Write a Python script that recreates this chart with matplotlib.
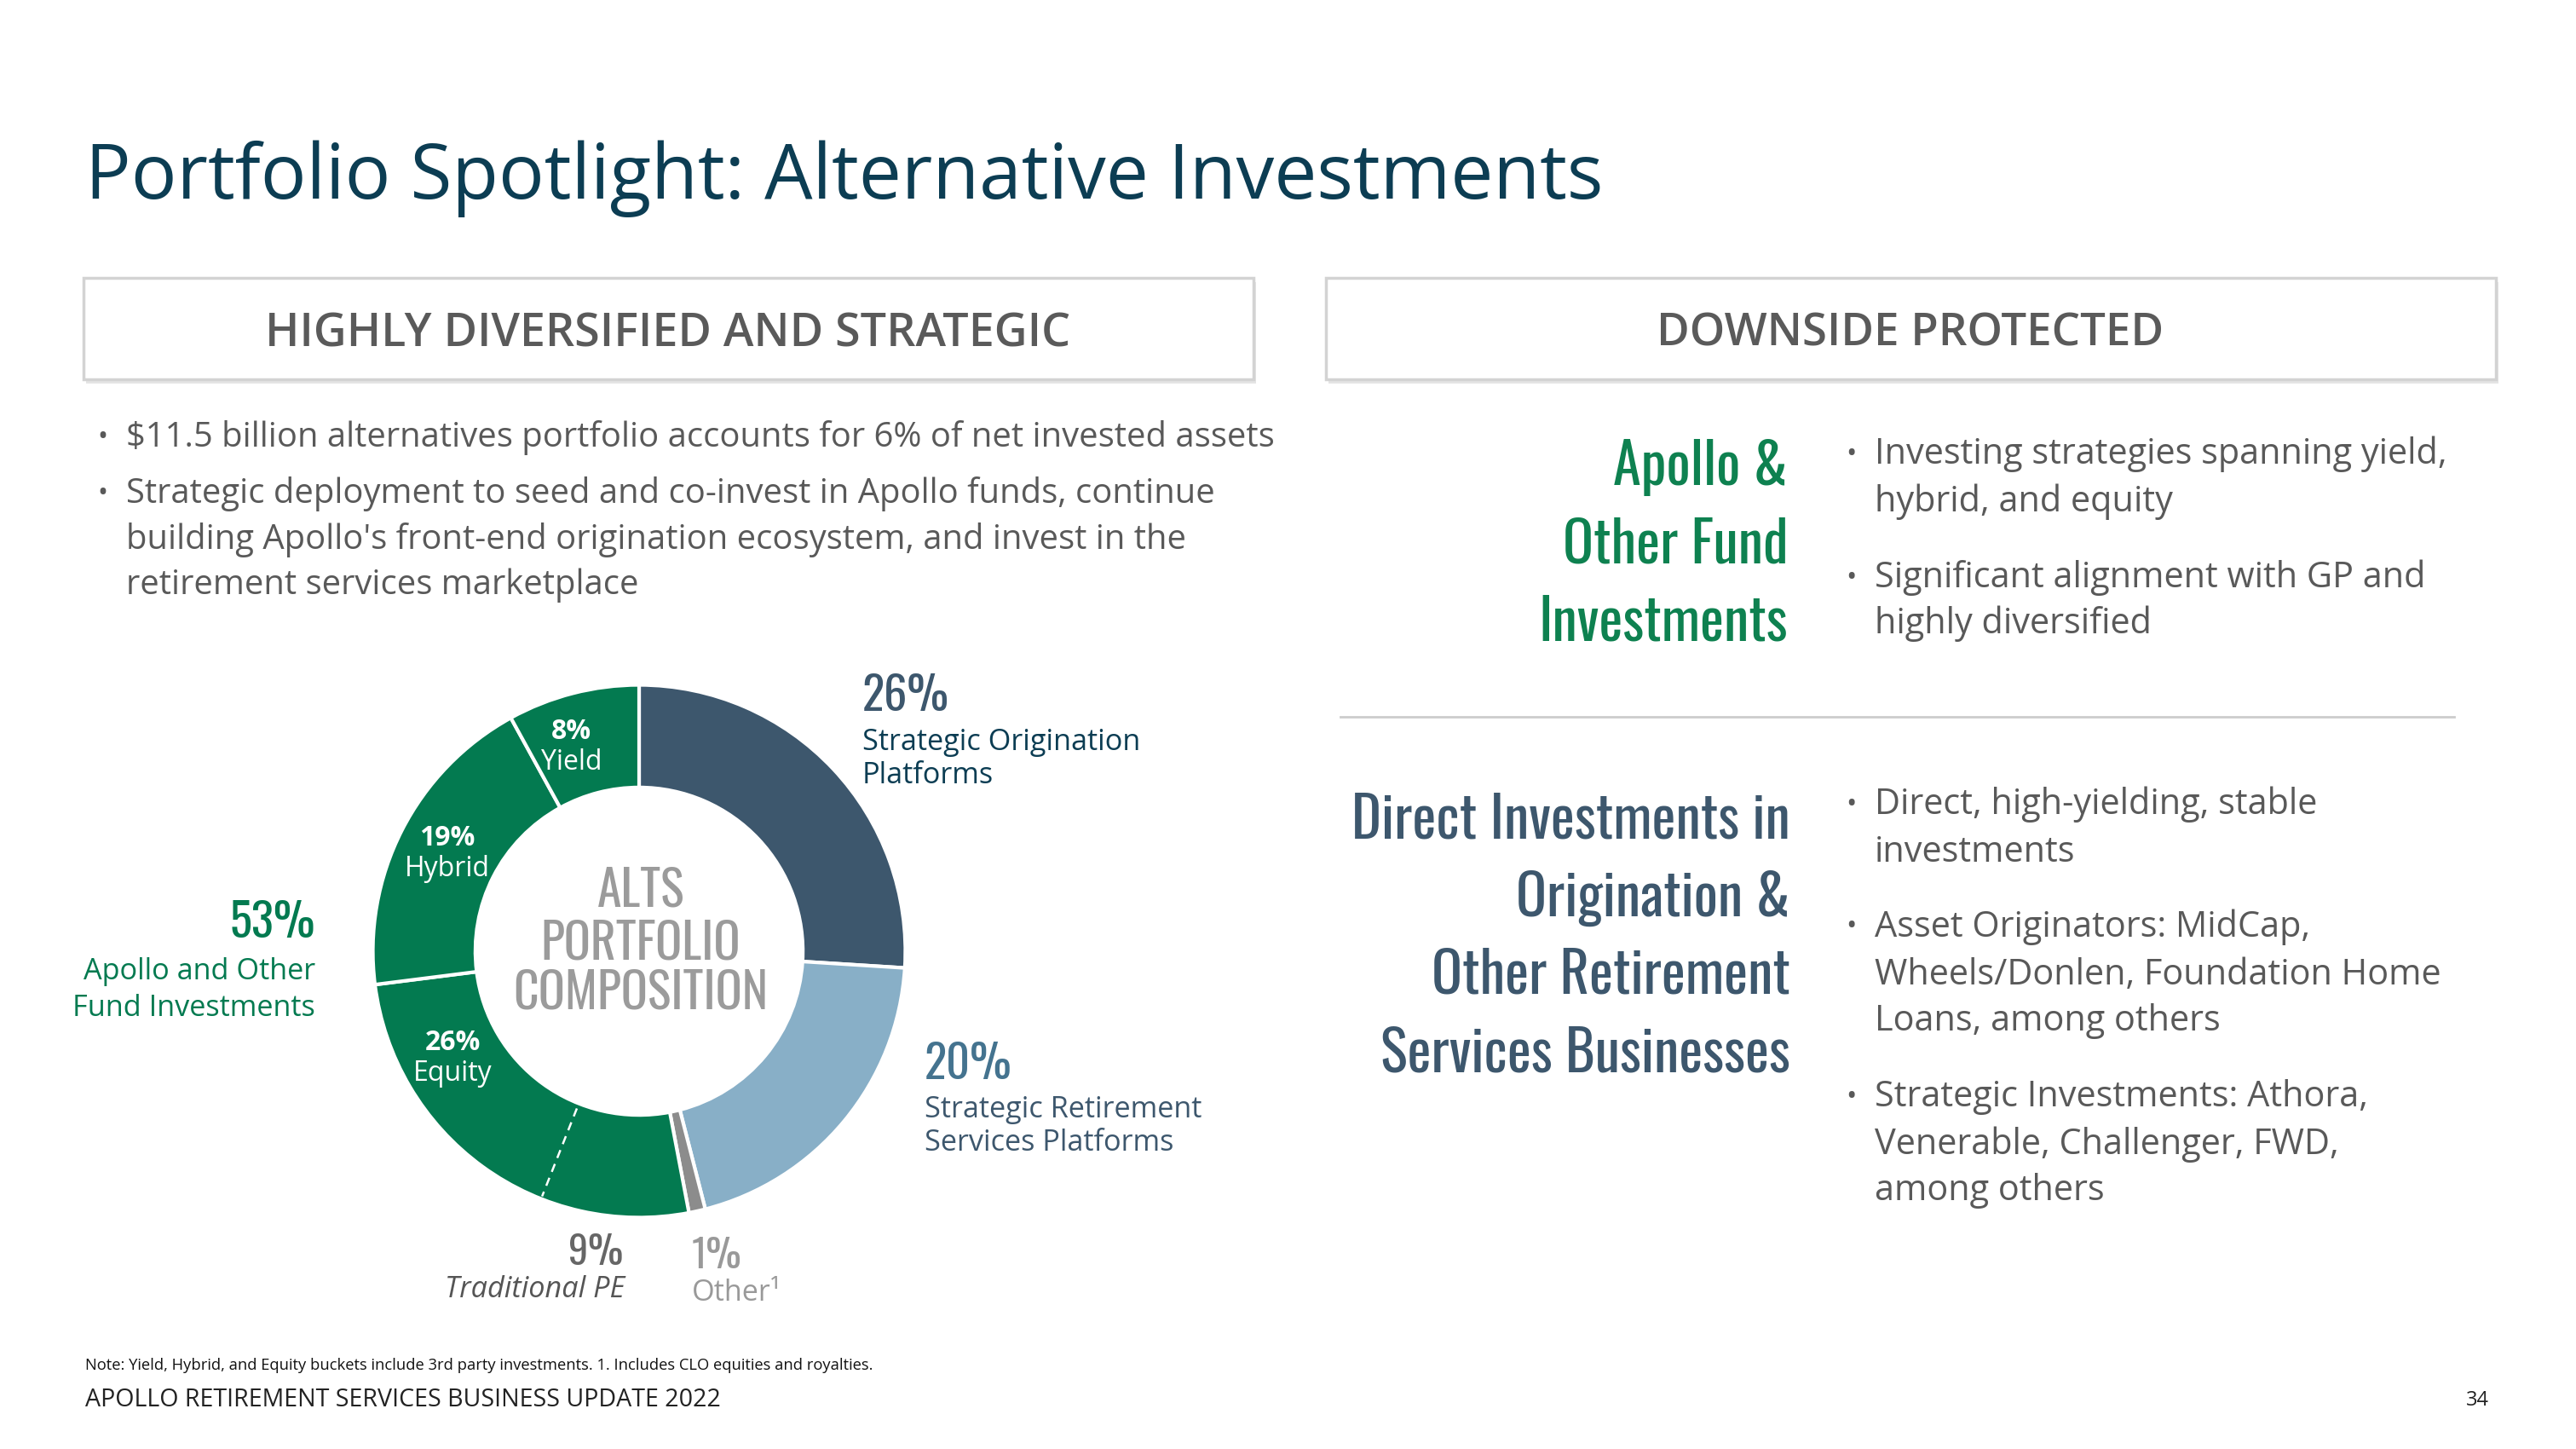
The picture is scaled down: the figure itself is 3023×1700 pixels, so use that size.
import numpy as np
import matplotlib
matplotlib.use("Agg")
import matplotlib.pyplot as plt
from matplotlib.patches import Rectangle

# ---- data ----
segment_names = ["Strategic Origination Platforms", "Strategic Retirement Services Platforms",
                 "Other", "Equity", "Hybrid", "Yield"]
segment_values = [26, 20, 1, 26, 19, 8]
segment_colors = ["#3D576D", "#88AFC7", "#8C8C8C", "#037A50", "#037A50", "#037A50"]
trad_pe_value = 9        # part of Equity, split off by the dashed line
fund_total = 53          # Yield + Hybrid + Equity

left_bullets = [
    ["$11.5 billion alternatives portfolio accounts for 6% of net invested assets"],
    ["Strategic deployment to seed and co-invest in Apollo funds, continue",
     "building Apollo's front-end origination ecosystem, and invest in the",
     "retirement services marketplace"],
]
fund_label = ["Apollo &", "Other Fund", "Investments"]
fund_bullets = [["Investing strategies spanning yield,", "hybrid, and equity"],
                ["Significant alignment with GP and", "highly diversified"]]
direct_label = ["Direct Investments in", "Origination &", "Other Retirement", "Services Businesses"]
direct_bullets = [["Direct, high-yielding, stable", "investments"],
                  ["Asset Originators: MidCap,", "Wheels/Donlen, Foundation Home", "Loans, among others"],
                  ["Strategic Investments: Athora,", "Venerable, Challenger, FWD,", "among others"]]

BODY = "Open Sans"
cond = dict(family="Oswald")
cond_light = dict(family="Oswald", weight="light")

W, H = 3023, 1700
fig = plt.figure(figsize=(W / 100, H / 100), dpi=100)
bg = fig.add_axes([0, 0, 1, 1])
bg.set_xlim(0, W)
bg.set_ylim(H, 0)
bg.axis("off")
renderer = fig.canvas.get_renderer()


def text_w(s, size, **kw):
    t = bg.text(0, 0, s, fontsize=size, **kw)
    w = t.get_window_extent(renderer).width
    t.remove()
    return w


def fit_size(lines, widths, size, **kw):
    # font size so that the lines are about `widths` px wide (averaged)
    if not isinstance(widths, (list, tuple)):
        widths = [widths]
    ratios = [wd / text_w(s, size, **kw) for s, wd in zip(lines, widths)]
    return size * float(np.mean(ratios))


# title
title = "Portfolio Spotlight: Alternative Investments"
bg.text(100, 210, title, fontsize=fit_size([title], 1780, 60, family=BODY),
        family=BODY, color="#0C3D53", va="center")

# header boxes
for x0, label, w in [(98, "HIGHLY DIVERSIFIED AND STRATEGIC", 945), (1556, "DOWNSIDE PROTECTED", 595)]:
    bg.add_patch(Rectangle((x0 + 3, 331), 1373, 119, facecolor="#e4e4e4", edgecolor="none"))
    bg.add_patch(Rectangle((x0, 326), 1373, 119, facecolor="white", edgecolor="#d3d3d3", lw=2.5))
    bg.text(x0 + 686, 392, label, fontsize=fit_size([label], w, 30, family=BODY, weight="semibold"),
            family=BODY, weight="semibold", color="#5a5a5a", ha="center", va="center")

# left bullets
body_size = fit_size([left_bullets[0][0], left_bullets[1][0]], [1311, 1313], 25, family=BODY)
ys = [514, 579, 633, 687]
k = 0
for item in left_bullets:
    for j, line in enumerate(item):
        if j == 0:
            bg.text(114, ys[k], "\u2022", fontsize=body_size * 0.8, family=BODY, color="#595959", va="center")
        bg.text(148, ys[k], line, fontsize=body_size, family=BODY, color="#595959", va="center")
        k += 1

# ---- donut ----
cx, cy, R = 750, 1116, 314
ax = fig.add_axes([(cx - R) / W, 1 - (cy + R) / H, 2 * R / W, 2 * R / H])
ring = 0.385
ax.pie(segment_values, colors=segment_colors, startangle=90, counterclock=False, radius=1,
       wedgeprops=dict(width=ring, edgecolor="white", linewidth=3))
ax.set_xlim(-1.005, 1.005)
ax.set_ylim(-1.005, 1.005)
ax.set_aspect("equal")
ax.axis("off")

total = sum(segment_values)
cum = np.concatenate([[0], np.cumsum(segment_values)]) / total * 360
ang = lambda c: np.deg2rad(90 - c)
# dashed line separating Traditional PE inside Equity
a = ang(cum[3] + trad_pe_value / total * 360)
rr = np.array([1 - ring + 0.02, 0.99])
ax.plot(rr * np.cos(a), rr * np.sin(a), color="white", lw=1.8, ls=(0, (4, 3)))

rmid = 1 - ring / 2
inner = [("8%", "Yield", (cum[5] + cum[6]) / 2 - 4),
         ("19%", "Hybrid", (cum[4] + cum[5]) / 2),
         ("26%", "Equity", (cum[3] + trad_pe_value / total * 360 + cum[4]) / 2 + 8)]
for pct, name, c in inner:
    x, y = rmid * np.cos(ang(c)), rmid * np.sin(ang(c))
    ax.text(x, y + 0.005, pct, fontsize=23, family=BODY, weight="bold", color="white", ha="center", va="bottom")
    ax.text(x, y - 0.005, name, fontsize=23, family=BODY, color="white", ha="center", va="top")

# centre text
csize = fit_size(["COMPOSITION"], 299, 40, **cond)
for s, y in zip(["ALTS", "PORTFOLIO", "COMPOSITION"], [1046, 1107, 1165]):
    bg.text(752, y, s, fontsize=csize, color="#9B9B9B", ha="center", va="center", **cond)

# outside labels
psize = fit_size(["26%"], 102, 40, **cond)
lsize = fit_size(["Strategic Origination"], 328, 22, family=BODY)
bg.text(1012, 817, f"{segment_values[0]}%", fontsize=psize, color="#3D576D", va="center", **cond)
bg.text(1012, 871, "Strategic Origination", fontsize=lsize, family=BODY, color="#0C3D53", va="center")
bg.text(1012, 910, "Platforms", fontsize=lsize, family=BODY, color="#0C3D53", va="center")

bg.text(1085, 1249, f"{segment_values[1]}%", fontsize=psize, color="#44738F", va="center", **cond)
bg.text(1085, 1302, "Strategic Retirement", fontsize=lsize, family=BODY, color="#3D576D", va="center")
bg.text(1085, 1341, "Services Platforms", fontsize=lsize, family=BODY, color="#3D576D", va="center")

bg.text(370, 1083, f"{fund_total}%", fontsize=psize, color="#037A50", ha="right", va="center", **cond)
bg.text(370, 1140, "Apollo and Other", fontsize=lsize, family=BODY, color="#037A50", ha="right", va="center")
bg.text(370, 1183, "Fund Investments", fontsize=lsize, family=BODY, color="#037A50", ha="right", va="center")

bg.text(731, 1469, f"{trad_pe_value}%", fontsize=psize * 0.85, color="#666666", ha="right", va="center", **cond)
bg.text(733, 1513, "Traditional PE", fontsize=lsize, family=BODY, style="italic", color="#555555",
        ha="right", va="center")
bg.text(812, 1473, f"{segment_values[2]}%", fontsize=psize * 0.85, color="#999999", va="center", **cond)
bg.text(812, 1517, "Other\u00b9", fontsize=lsize, family=BODY, color="#999999", va="center")

# ---- right panel ----
bg.plot([1573, 2880], [841, 841], color="#cccccc", lw=2)
gsize = fit_size(direct_label, 515, 60, **cond_light)
for s, y in zip(fund_label, [549, 640, 731]):
    bg.text(2098, y, s, fontsize=gsize, color="#0E8150", ha="right", va="center", **cond_light)
for s, y in zip(direct_label, [963, 1054, 1145, 1237]):
    bg.text(2101, y, s, fontsize=gsize, color="#3D576D", ha="right", va="center", **cond_light)

rsize = fit_size([fund_bullets[0][0], direct_bullets[1][1]], [673, 669], 25, family=BODY)
rys = [[533, 589], [678, 732], [944, 1000], [1088, 1144, 1198], [1287, 1343, 1397]]
for item, yy in zip(fund_bullets + direct_bullets, rys):
    for j, (line, y) in enumerate(zip(item, yy)):
        if j == 0:
            bg.text(2166, y, "\u2022", fontsize=rsize * 0.8, family=BODY, color="#595959", va="center")
        bg.text(2200, y, line, fontsize=rsize, family=BODY, color="#595959", va="center")

# footer
note = "Note: Yield, Hybrid, and Equity buckets include 3rd party investments. 1. Includes CLO equities and royalties."
bg.text(100, 1602, note, fontsize=fit_size([note], 922, 13, family=BODY), family=BODY, color="#111111", va="center")
foot = "APOLLO RETIREMENT SERVICES BUSINESS UPDATE 2022"
bg.text(100, 1643, foot, fontsize=fit_size([foot], 744, 17, family=BODY), family=BODY, color="#222222", va="center")
bg.text(2921, 1643, "34", fontsize=17, family=BODY, color="#222222", ha="right", va="center")

fig.savefig("out.png", dpi=100)
